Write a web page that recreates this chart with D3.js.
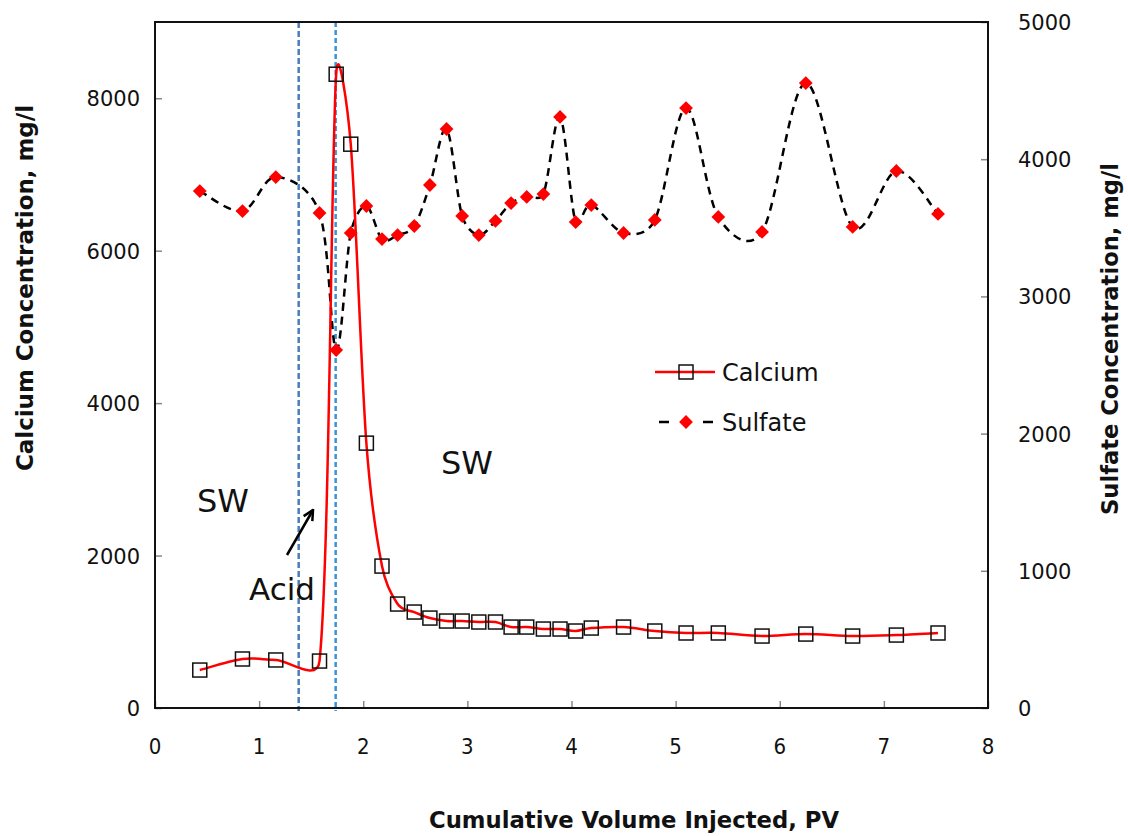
<!DOCTYPE html>
<html>
<head>
<meta charset="utf-8">
<script src="https://cdn.jsdelivr.net/npm/d3@7"></script>
<style>
  body { margin: 0; background: #fff; }
  text { font-family: "DejaVu Sans", sans-serif; fill: #111; }
</style>
</head>
<body>
<div id="chart"></div>
<script>

var width = 1128,
    height = 836;

// cumulative volume injected (PV), shared by both series
var pv = [0.43, 0.84, 1.16, 1.58, 1.74, 1.88, 2.03, 2.18, 2.33, 2.49,
          2.64, 2.80, 2.95, 3.11, 3.27, 3.42, 3.57, 3.73, 3.89, 4.04,
          4.19, 4.50, 4.80, 5.10, 5.41, 5.83, 6.25, 6.70, 7.12, 7.52];
var calcium = [498, 643, 630, 616, 8315, 7397, 3475, 1862, 1364, 1259,
               1180, 1141, 1141, 1128, 1128, 1062, 1062, 1036, 1036, 1010,
               1049, 1062, 1010, 984, 984, 944, 970, 944, 957, 984];
var sulfate = [3768, 3622, 3870, 3608, 2609, 3462, 3659, 3418, 3447, 3513,
               3812, 4220, 3586, 3447, 3550, 3680, 3725, 3746, 4308, 3542,
               3666, 3462, 3557, 4373, 3579, 3470, 4555, 3506, 3914, 3601];
var xTicks = [0, 1, 2, 3, 4, 5, 6, 7, 8];
var leftTicks = [0, 2000, 4000, 6000, 8000];
var rightTicks = [0, 1000, 2000, 3000, 4000, 5000];
var acidLines = [1.38, 1.735];

var m = {left: 155, right: 140, top: 22, bottom: 128};

var svg = d3.select("#chart").append("svg")
    .attr("width", width)
    .attr("height", height);

var x = d3.scaleLinear().domain([0, 8]).range([m.left, width - m.right]);
var yL = d3.scaleLinear().domain([0, 9000]).range([height - m.bottom, m.top]);
var yR = d3.scaleLinear().domain([0, 5000]).range([height - m.bottom, m.top]);

var plotB = height - m.bottom,
    plotR = width - m.right;

// spreadsheet-style smoothing: bezier arms 1/6 of the chord, capped at half the segment
function smoothPath(pts) {
  var p = d3.path(), n = pts.length;
  function dist(a, b) { return Math.hypot(b[0] - a[0], b[1] - a[1]); }
  p.moveTo(pts[0][0], pts[0][1]);
  for (var i = 0; i < n - 1; i++) {
    var p0 = pts[Math.max(i - 1, 0)], p1 = pts[i], p2 = pts[i + 1], p3 = pts[Math.min(i + 2, n - 1)];
    var d12 = dist(p1, p2), d02 = dist(p0, p2), d13 = dist(p1, p3);
    var f0 = d02 > 0 ? Math.min(1 / 6, d12 / 2 / d02) : 0;
    var f1 = d13 > 0 ? Math.min(1 / 6, d12 / 2 / d13) : 0;
    p.bezierCurveTo(p1[0] + (p2[0] - p0[0]) * f0, p1[1] + (p2[1] - p0[1]) * f0,
                    p2[0] - (p3[0] - p1[0]) * f1, p2[1] - (p3[1] - p1[1]) * f1,
                    p2[0], p2[1]);
  }
  return p.toString();
}

// axes, ticks pointing into the plot
svg.append("g")
    .attr("transform", "translate(0," + plotB + ")")
    .call(d3.axisTop(x).tickValues(xTicks).tickSize(7).tickFormat(""));
svg.append("g")
    .attr("transform", "translate(" + m.left + ",0)")
    .call(d3.axisRight(yL).tickValues(leftTicks).tickSize(7).tickFormat(""));
svg.append("g")
    .attr("transform", "translate(" + plotR + ",0)")
    .call(d3.axisLeft(yR).tickValues(rightTicks).tickSize(7).tickFormat(""));
svg.selectAll(".domain").remove();
svg.selectAll(".tick line").attr("stroke", "#888").attr("stroke-width", 1.5);

// tick labels
svg.selectAll(".xlab")
    .data(xTicks)
    .enter().append("text")
    .attr("class", "xlab")
    .attr("x", function(d) { return x(d); })
    .attr("y", plotB + 46)
    .attr("text-anchor", "middle")
    .attr("font-size", 22)
    .style("font-family", "'DejaVu Sans Condensed', 'DejaVu Sans'")
    .text(function(d) { return d; });

svg.selectAll(".llab")
    .data(leftTicks)
    .enter().append("text")
    .attr("class", "llab")
    .attr("x", m.left - 15)
    .attr("y", function(d) { return yL(d) + 8; })
    .attr("text-anchor", "end")
    .attr("font-size", 21)
    .text(function(d) { return d; });

svg.selectAll(".rlab")
    .data(rightTicks)
    .enter().append("text")
    .attr("class", "rlab")
    .attr("x", plotR + 30)
    .attr("y", function(d) { return yR(d) + 8; })
    .attr("text-anchor", "start")
    .attr("font-size", 21)
    .text(function(d) { return d; });

// acid injection window
svg.selectAll(".acid")
    .data(acidLines)
    .enter().append("line")
    .attr("class", "acid")
    .attr("x1", function(d) { return x(d); })
    .attr("x2", function(d) { return x(d); })
    .attr("y1", m.top)
    .attr("y2", plotB + 3)
    .attr("stroke", function(d, i) { return i ? "#3a93d6" : "#4a7ebb"; })
    .attr("stroke-width", 2.5)
    .attr("stroke-dasharray", function(d, i) { return i ? "5,3" : "6,3"; });

// sulfate series
var sulPts = sulfate.map(function(d, i) { return [x(pv[i]), yR(d)]; });

svg.append("path")
    .attr("d", smoothPath(sulPts))
    .attr("fill", "none")
    .attr("stroke", "#000")
    .attr("stroke-width", 2.5)
    .attr("stroke-dasharray", "8,6");

var diamond = d3.symbol().type(d3.symbolSquare).size(95);

svg.selectAll(".sul")
    .data(sulfate)
    .enter().append("path")
    .attr("class", "sul")
    .attr("d", diamond)
    .attr("transform", function(d, i) { return "translate(" + x(pv[i]) + "," + yR(d) + ") rotate(45)"; })
    .attr("fill", "#ff0000");

// calcium series
var caPts = calcium.map(function(d, i) { return [x(pv[i]), yL(d)]; });

svg.append("path")
    .attr("d", smoothPath(caPts))
    .attr("fill", "none")
    .attr("stroke", "#ff0000")
    .attr("stroke-width", 2.5);

svg.selectAll(".ca")
    .data(calcium)
    .enter().append("rect")
    .attr("class", "ca")
    .attr("x", function(d, i) { return x(pv[i]) - 7; })
    .attr("y", function(d) { return yL(d) - 7; })
    .attr("width", 14)
    .attr("height", 14)
    .attr("fill", "none")
    .attr("stroke", "#111")
    .attr("stroke-width", 1.5);

// frame
svg.append("rect")
    .attr("x", m.left)
    .attr("y", m.top)
    .attr("width", plotR - m.left)
    .attr("height", plotB - m.top)
    .attr("fill", "none")
    .attr("stroke", "#111")
    .attr("stroke-width", 2);

// axis titles
svg.append("text")
    .attr("x", 634)
    .attr("y", 828)
    .attr("text-anchor", "middle")
    .attr("font-size", 23)
    .attr("font-weight", "bold")
    .attr("textLength", 410)
    .attr("lengthAdjust", "spacingAndGlyphs")
    .style("font-family", "'DejaVu Sans Condensed', 'DejaVu Sans'")
    .text("Cumulative Volume Injected, PV");

svg.append("text")
    .attr("transform", "translate(33,288) rotate(-90)")
    .attr("text-anchor", "middle")
    .attr("font-size", 23)
    .attr("font-weight", "bold")
    .attr("textLength", 366)
    .attr("lengthAdjust", "spacingAndGlyphs")
    .style("font-family", "'DejaVu Sans Condensed', 'DejaVu Sans'")
    .text("Calcium Concentration, mg/l");

svg.append("text")
    .attr("transform", "translate(1118,339) rotate(-90)")
    .attr("text-anchor", "middle")
    .attr("font-size", 23)
    .attr("font-weight", "bold")
    .attr("textLength", 352)
    .attr("lengthAdjust", "spacingAndGlyphs")
    .style("font-family", "'DejaVu Sans Condensed', 'DejaVu Sans'")
    .text("Sulfate Concentration, mg/l");

// annotations
function note(tx, ty, s, fs) {
  svg.append("text")
      .attr("x", tx)
      .attr("y", ty)
      .attr("font-size", fs)
      .text(s);
}
note(197, 512, "SW", 32);
note(441, 474, "SW", 32);
note(249, 600, "Acid", 31);

svg.append("defs").append("marker")
    .attr("id", "head")
    .attr("viewBox", "0 0 10 10")
    .attr("refX", 9).attr("refY", 5)
    .attr("markerWidth", 5).attr("markerHeight", 5)
    .attr("orient", "auto")
  .append("path")
    .attr("d", "M1,1 L9,5 L1,9")
    .attr("fill", "none")
    .attr("stroke", "#000")
    .attr("stroke-width", 2);

svg.append("line")
    .attr("x1", 287).attr("y1", 555)
    .attr("x2", 313).attr("y2", 510)
    .attr("stroke", "#000")
    .attr("stroke-width", 2.5)
    .attr("marker-end", "url(#head)");

// legend
var leg = svg.append("g").attr("transform", "translate(655,372)");
leg.append("line").attr("x1", 0).attr("x2", 60).attr("y1", 0).attr("y2", 0)
    .attr("stroke", "#ff0000").attr("stroke-width", 2.5);
leg.append("rect").attr("x", 24).attr("y", -7).attr("width", 14).attr("height", 14)
    .attr("fill", "none").attr("stroke", "#111").attr("stroke-width", 1.5);
leg.append("text").attr("x", 67).attr("y", 9).attr("font-size", 24).text("Calcium");

leg.selectAll(".sdash")
    .data([[4, 14], [48, 58]])
    .enter().append("line")
    .attr("x1", function(d) { return d[0]; })
    .attr("x2", function(d) { return d[1]; })
    .attr("y1", 50).attr("y2", 50)
    .attr("stroke", "#000").attr("stroke-width", 2.5);
leg.append("path").attr("d", diamond)
    .attr("transform", "translate(31,50) rotate(45)")
    .attr("fill", "#ff0000");
leg.append("text").attr("x", 67).attr("y", 59).attr("font-size", 24).text("Sulfate");

</script>
</body>
</html>
